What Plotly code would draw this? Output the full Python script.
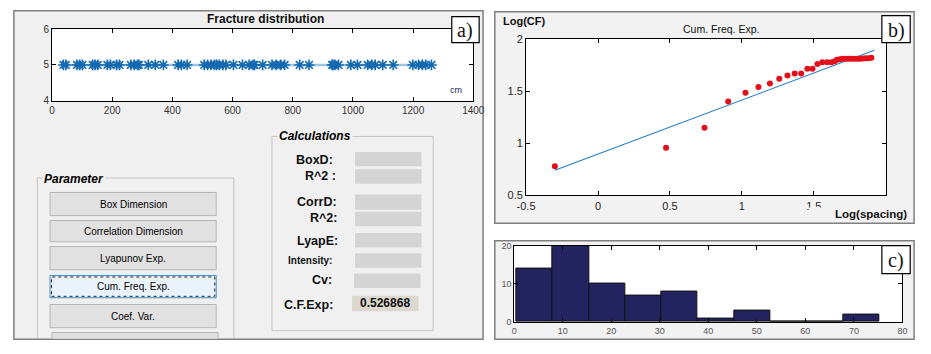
import plotly.graph_objects as go

# ---------------- data ----------------
frac_pos = [38, 46, 83, 92, 101, 135, 143, 152, 184, 194, 215, 224, 262, 273, 284, 289,
            320, 343, 370, 419, 430, 449, 506, 517, 528, 540, 547, 556, 568, 578, 603,
            633, 655, 668, 673, 700, 731, 745, 760, 773, 823, 854, 931, 934, 940, 952,
            993, 1015, 1049, 1063, 1074, 1099, 1134, 1199, 1218, 1231, 1242, 1261]
frac_level = [5] * len(frac_pos)

log_spacing = [-0.30, 0.473, 0.740, 0.905, 1.025, 1.115, 1.195, 1.260, 1.317, 1.367, 1.412,
               1.455, 1.491, 1.525, 1.559, 1.593, 1.622, 1.645, 1.66, 1.68, 1.70, 1.72,
               1.74, 1.76, 1.78, 1.80, 1.82, 1.84, 1.86, 1.88, 1.90]
log_cf = [0.78, 0.957, 1.148, 1.40, 1.483, 1.538, 1.572, 1.618, 1.649, 1.668, 1.668,
          1.714, 1.714, 1.760, 1.775, 1.775, 1.775, 1.785, 1.80, 1.805, 1.81, 1.81,
          1.81, 1.81, 1.81, 1.81, 1.81, 1.812, 1.815, 1.815, 1.82]
fit_x = [-0.30, 1.92]
fit_y = [0.74, 1.89]

bin_edges = [0.4, 7.9, 15.4, 22.9, 30.3, 37.8, 45.3, 52.8, 60.3, 67.8, 75.2]
bin_counts = [14, 20, 10, 7, 8, 1, 3, 0, 0, 2]

a_xticks = [0, 200, 400, 600, 800, 1000, 1200, 1400]
a_yticks = [4, 5, 6]
b_xticks = [-0.5, 0, 0.5, 1, 1.5, 2]
b_xlabels = ["-0.5", "0", "0.5", "1", "1.5", ""]
b_yticks = [0.5, 1, 1.5, 2]
c_xticks = [0, 10, 20, 30, 40, 50, 60, 70, 80]
c_yticks = [0, 10, 20]

buttons = ["Box Dimension", "Correlation Dimension", "Lyapunov Exp.", "Cum. Freq. Exp.", "Coef. Var."]
calc_labels = ["BoxD:", "R^2 :", "CorrD:", "R^2:", "LyapE:", "Intensity:", "Cv:", "C.F.Exp:"]
cf_exp_value = "0.526868"

# ---------------- helpers ----------------
W, H = 931, 354
def X(px): return px / W
def Y(py): return 1 - py / H

shapes = []
annos = []
def rect(x0, y0, x1, y1, fill=None, line="#888", lw=1, dash="solid", layer="below"):
    shapes.append(dict(type="rect", xref="paper", yref="paper", x0=X(x0), x1=X(x1),
                       y0=Y(y1), y1=Y(y0), fillcolor=fill or "rgba(0,0,0,0)",
                       line=dict(color=line if lw > 0 else "rgba(0,0,0,0)", width=lw, dash=dash),
                       layer=layer))
def seg(x0, y0, x1, y1, color="#888", lw=1, layer="below"):
    shapes.append(dict(type="line", xref="paper", yref="paper", x0=X(x0), x1=X(x1),
                       y0=Y(y0), y1=Y(y1), line=dict(color=color, width=lw), layer=layer))
def text(x, y, s, size=12, color="#000", xanchor="center", yanchor="middle",
         family="Liberation Sans", bg=None, **kw):
    d = dict(xref="paper", yref="paper", x=X(x), y=Y(y), text=s, showarrow=False,
             xanchor=xanchor, yanchor=yanchor, font=dict(size=size, color=color, family=family))
    if bg:
        d["bgcolor"] = bg
    d.update(kw)
    annos.append(d)

# ---------------- GUI frames ----------------
GUI = "#f0f0f0"
rect(5, 5, 485, 345, fill=GUI, line="#7f7f7f", lw=1.5)
rect(497, 6, 926, 225, fill="#f2f2f2", line="#7f7f7f", lw=1.5)
rect(497, 243, 926, 345, fill="#f2f2f2", line="#7f7f7f", lw=1.5)
# white plot areas
rect(44, 24, 475, 98, fill="white", lw=0)
rect(529, 34, 897, 196, fill="white", lw=0)
rect(517, 248, 914, 327, fill="white", lw=0)

# group boxes (Parameter box runs past the bottom of the panel)
seg(29, 178, 230, 178, "#c4c4c4")
seg(29, 178, 29, 344, "#c4c4c4")
seg(230, 178, 230, 344, "#c4c4c4")
rect(269, 135, 434, 336, line="#c4c4c4", lw=1)
text(34, 179, "<b><i>Parameter</i></b>", size=12, xanchor="left", bg=GUI)
text(274, 135, "<b><i>Calculations</i></b>", size=12, xanchor="left", bg=GUI)

# buttons
btn_rows = [(193, 217), (222, 244), (249, 273), (279, 302), (309, 333)]
for name, (y0, y1) in zip(buttons, btn_rows):
    if name == "Cum. Freq. Exp.":
        rect(42, y0, 212, y1, fill="#eaf3fb", line="#3f8fd2", lw=1)
        rect(43.5, y0 + 1.5, 210.5, y1 - 1.5, line="#222", lw=1, dash="dot")
    else:
        rect(42, y0, 212, y1, fill="#e1e1e1", line="#b4b4b4", lw=1)
    text(127, (y0 + y1) / 2, name, size=10)
# partially visible button cut by the panel edge
rect(44, 338, 214, 344.3, fill="#e1e1e1", lw=0)
seg(44, 338, 214, 338, "#b4b4b4")
seg(44, 338, 44, 344.3, "#b4b4b4")
seg(214, 338, 214, 344.3, "#b4b4b4")

# calculation labels and boxes
label_rows = [(159, 151, 166, 354, 422), (176, 169, 184, 354, 422), (203, 195, 211, 354, 422),
              (219, 213, 228, 354, 422), (243, 235, 250, 354, 422), (263, 256, 271, 354, 422),
              (284, 277, 292, 353, 421), (310, 300, 316, 351, 419)]
label_right = [334, 337, 338, 338, 339, 333, 333, 334]
for lab, (ly, by0, by1, bx0, bx1), lr in zip(calc_labels, label_rows, label_right):
    sz = 10 if lab == "Intensity:" else 12.5
    text(lr, ly, "<b>" + lab + "</b>", size=sz, xanchor="right", color="#111")
    if lab == "C.F.Exp:":
        rect(bx0, by0, bx1, by1, fill="#dcd8d0", lw=0)
        text((bx0 + bx1) / 2, 307, "<b>" + cf_exp_value + "</b>", size=12, color="#111")
    else:
        rect(bx0, by0, bx1, by1, fill="#d4d4d4", lw=0)

# ---------------- traces ----------------
fig = go.Figure()
# panel a
fig.add_trace(go.Scatter(x=frac_pos, y=frac_level, mode="lines", line=dict(color="#9cc3e6", width=2.5),
                         xaxis="x", yaxis="y", hoverinfo="skip"))
fig.add_trace(go.Scatter(x=frac_pos, y=frac_level, mode="markers",
                         marker=dict(symbol="asterisk-open", size=9, color="#1369b0",
                                     line=dict(color="#1369b0", width=1.6)),
                         xaxis="x", yaxis="y"))
# panel b
fig.add_trace(go.Scatter(x=fit_x, y=fit_y, mode="lines", line=dict(color="#1f7bc8", width=1.1),
                         xaxis="x2", yaxis="y2"))
fig.add_trace(go.Scatter(x=log_spacing, y=log_cf, mode="markers",
                         marker=dict(color="#e3101b", size=6), xaxis="x2", yaxis="y2"))
# panel c
bx = bin_edges[:-1]
bw = [bin_edges[i + 1] - bin_edges[i] for i in range(len(bin_counts))]
fig.add_trace(go.Bar(x=bx, y=bin_counts, width=bw, offset=0, marker=dict(color="#23235f",
                     line=dict(color="#111", width=1)), xaxis="x3", yaxis="y3"))

ax_common = dict(showline=True, linecolor="#000", linewidth=1, mirror="ticks", ticks="inside",
                 ticklen=4, tickcolor="#000", showgrid=False, zeroline=False, fixedrange=True)

fig.update_layout(
    width=W, height=H, autosize=False, margin=dict(l=0, r=0, t=0, b=0),
    paper_bgcolor="white", plot_bgcolor="white", showlegend=False,
    font=dict(family="Liberation Sans"),
    xaxis=dict(domain=[X(44), X(475)], range=[0, 1400], tickvals=a_xticks, anchor="y",
               tickfont=dict(size=10, color="#333"), **ax_common),
    yaxis=dict(domain=[Y(98), Y(24)], range=[4, 6], tickvals=a_yticks, anchor="x",
               tickfont=dict(size=10, color="#333"), **ax_common),
    xaxis2=dict(domain=[X(529), X(897)], range=[-0.5, 2], tickvals=b_xticks,
                ticktext=b_xlabels, anchor="y2",
                tickfont=dict(size=11, color="#262626"), **ax_common),
    yaxis2=dict(domain=[Y(196), Y(34)], range=[0.5, 2], tickvals=b_yticks,
                ticktext=["0.5", "1", "1.5", "2"], anchor="x2",
                tickfont=dict(size=11, color="#262626"), **ax_common),
    xaxis3=dict(domain=[X(517), X(914)], range=[0, 80], tickvals=c_xticks, anchor="y3",
                tickfont=dict(size=9, color="#555"), **ax_common),
    yaxis3=dict(domain=[Y(327), Y(248)], range=[0, 20], tickvals=c_yticks, anchor="x3",
                tickfont=dict(size=9, color="#555"), **ax_common),
    bargap=0,
)

# titles / labels
text(262, 13, "<b>Fracture distribution</b>", size=12, color="#111")
text(457, 87, "cm", size=9, color="#1a1a60")
text(527, 16, "<b>Log(CF)</b>", size=11, color="#111")
text(728, 24, "Cum. Freq. Exp.", size=10.5, color="#111")
# label box partially covering the last x tick labels (as in the MATLAB figure)
rect(818, 208.5, 924, 223.5, fill="#f2f2f2", lw=0, layer="above")
text(921, 215.5, "<b>Log(spacing)</b>", size=11.5, color="#111", xanchor="right")

# panel letter boxes
for (x0, y0, x1, y1, s) in [(453, 11, 481, 38, "a)"), (893, 10, 922, 38, "b)"), (893, 248, 922, 277, "c)")]:
    rect(x0, y0, x1, y1, fill="white", line="#000", lw=1.2, layer="above")
    text((x0 + x1) / 2, (y0 + y1) / 2 + 1, s, size=20, family="Liberation Serif", color="#111")

fig.update_layout(shapes=shapes, annotations=annos)
post = ("document.documentElement.style.margin='0';document.body.style.margin='0';"
        "document.body.style.padding='0';document.body.style.overflow='hidden';"
        "var gd=document.getElementById('{plot_id}');"
        "gd.style.position='fixed';gd.style.left='0px';gd.style.top='0px';"
        "Plotly.relayout(gd,{width:931,height:354});")
fig.write_html("out.html", config={"displayModeBar": False, "responsive": False},
               post_script=post)
